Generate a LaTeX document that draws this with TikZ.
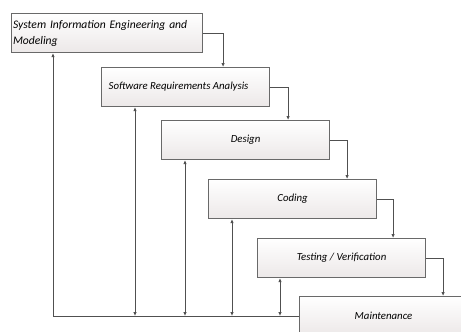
\documentclass[tikz,border=0pt]{standalone}
\usepackage{fontspec}
\setmainfont{Carlito}
\usepackage{tikz}
\usetikzlibrary{arrows.meta}
\definecolor{boxgray}{RGB}{105,105,105}
\definecolor{linegray}{RGB}{80,80,80}
\definecolor{fillblue}{RGB}{232,243,252}
\definecolor{fillgray}{RGB}{236,232,232}
\tikzset{
  stage/.style={draw=boxgray, line width=1.1pt, top color=white, middle color=fillblue,
    bottom color=fillgray, minimum width=168pt, minimum height=39pt, anchor=north west,
    inner sep=1pt, font=\fontsize{10.8}{16}\selectfont\itshape},
  flow/.style={draw=linegray, line width=0.9pt, -{Latex[length=4pt,width=3.5pt]}},
  twoway/.style={draw=linegray, line width=0.9pt, {Latex[length=4pt,width=3.5pt]}-{Latex[length=4pt,width=3.5pt]}}
}
\begin{document}
\begin{tikzpicture}[x=1pt,y=-1pt]
            \useasboundingbox (0,0) rectangle (461,332);
            \clip (0,0) rectangle (461,332);
            \node[stage, minimum width=191pt, align=left, text width=188pt, font=\fontsize{11.6}{16}\selectfont\itshape] (sys) at (11,13) {System Information Engineering and\\Modeling};
            \node[stage] (req) at (101,67) {\hspace*{-14pt}Software Requirements Analysis};
            \node[stage] (des) at (161,120) {Design};
            \node[stage] (cod) at (208,179) {Coding};
            \node[stage] (tst) at (257,238) {Testing / Verification};
            \node[stage] (mnt) at (299,296) {Maintenance};
            \draw[flow] (sys.east) -- ++(20,0) coordinate (k1) -- (k1 |- req.north);
            \draw[flow] (req.east) -- ++(18,0) coordinate (k2) -- (k2 |- des.north);
            \draw[flow] (des.east) -- ++(17,0) coordinate (k3) -- (k3 |- cod.north);
            \draw[flow] (cod.east) -- ++(16,0) coordinate (k4) -- (k4 |- tst.north);
            \draw[flow] (tst.east) -- ++(17,0) coordinate (k5) -- (k5 |- mnt.north);
            \draw[flow] (mnt.west) -| ([xshift=42pt]sys.south west);
            \draw[twoway] ([xshift=34pt]req.south west) coordinate (f2) -- (f2 |- mnt.west);
            \draw[twoway] ([xshift=24pt]des.south west) coordinate (f3) -- (f3 |- mnt.west);
            \draw[twoway] ([xshift=24pt]cod.south west) coordinate (f4) -- (f4 |- mnt.west);
            \draw[twoway] ([xshift=23pt]tst.south west) coordinate (f5) -- (f5 |- mnt.west);
        \end{tikzpicture}
\end{document}
